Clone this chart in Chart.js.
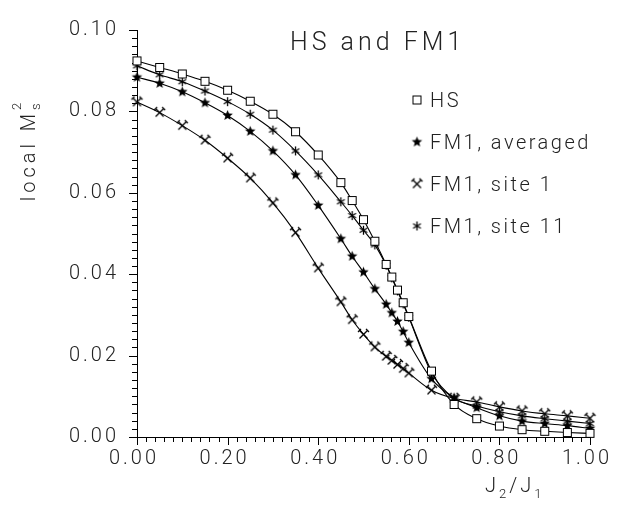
<!DOCTYPE html>
<html>
<head>
<meta charset="utf-8">
<script src="https://cdn.jsdelivr.net/npm/chart.js@4.4.1/dist/chart.umd.min.js"></script>
<style>
  html, body { margin: 0; padding: 0; background: #fff; }
  #wrap { width: 624px; height: 506px; }
</style>
</head>
<body>
<div id="wrap"><canvas id="chart"></canvas></div>
<script>
// J2/J1 values where the curves were sampled
const ratio = [0, 0.05, 0.1, 0.15, 0.2, 0.25, 0.3, 0.35, 0.4, 0.45, 0.475, 0.5, 0.525,
  0.55, 0.5625, 0.575, 0.5875, 0.6, 0.65, 0.7, 0.75, 0.8, 0.85, 0.9, 0.95, 1.0];

const hsValues = [0.0924, 0.0908, 0.0892, 0.0874, 0.0852, 0.0825, 0.0793, 0.0750, 0.0693,
  0.0625, 0.0581, 0.0534, 0.0481, 0.0424, 0.0393, 0.0361, 0.0330, 0.0296, 0.0162, 0.0080,
  0.0045, 0.0027, 0.0018, 0.0014, 0.0011, 0.0009];

const fm1Averaged = [0.0884, 0.0869, 0.0848, 0.0821, 0.0790, 0.0751, 0.0703, 0.0644, 0.0569,
  0.0487, 0.0444, 0.0405, 0.0364, 0.0326, 0.0305, 0.0284, 0.0259, 0.0232, 0.0143, 0.0096,
  0.0072, 0.0052, 0.0039, 0.0033, 0.0028, 0.0021];

const fm1Site1 = [0.0823, 0.0797, 0.0765, 0.0729, 0.0685, 0.0636, 0.0575, 0.0502, 0.0415,
  0.0332, 0.0288, 0.0252, 0.0221, 0.0198, 0.0188, 0.0178, 0.0168, 0.0157, 0.0115, 0.0095,
  0.0086, 0.0074, 0.0064, 0.0057, 0.0052, 0.0046];

const fm1Site11 = [0.0912, 0.0890, 0.0873, 0.0850, 0.0824, 0.0793, 0.0754, 0.0703, 0.0644,
  0.0578, 0.0544, 0.0508, 0.0472, 0.0422, 0.0391, 0.0359, 0.0327, 0.0294, 0.0158, 0.0095,
  0.0076, 0.0062, 0.0052, 0.0045, 0.0039, 0.0033];

const seriesNames = ["HS", "FM1, averaged", "FM1, site 1", "FM1, site 11"];
const chartTitle = "HS and FM1";

const textFont = "Roboto, 'Liberation Sans', sans-serif";
const ink = "#222";

function isMajor(v, step) {
  return Math.abs(v / step - Math.round(v / step)) < 1e-6;
}

// small canvases used as point styles
function makeMarker(kind) {
  const c = document.createElement("canvas");
  c.width = 15;
  c.height = 15;
  const g = c.getContext("2d");
  g.translate(7.5, 7.5);
  g.strokeStyle = "#000";
  g.fillStyle = "#000";
  g.lineWidth = 1.3;
  if (kind == "square") {
    g.lineWidth = 1;
    g.fillStyle = "#fff";
    g.fillRect(-4, -4, 8, 8);
    g.strokeRect(-4, -4, 8, 8);
  } else if (kind == "star") {
    g.beginPath();
    for (let i = 0; i < 10; i++) {
      const r = i % 2 == 0 ? 5.5 : 2.4;
      const a = -Math.PI / 2 + i * Math.PI / 5;
      g.lineTo(r * Math.cos(a), r * Math.sin(a));
    }
    g.closePath();
    g.fill();
  } else if (kind == "hammer") {
    g.beginPath();
    g.moveTo(-4, -4); g.lineTo(4, 4);
    g.moveTo(4, -4); g.lineTo(-4, 4);
    g.moveTo(-5.5, -2.5); g.lineTo(-2.5, -5.5);
    g.moveTo(2.5, -5.5); g.lineTo(5.5, -2.5);
    g.stroke();
  } else {
    g.beginPath();
    for (let i = 0; i < 3; i++) {
      const a = Math.PI / 2 + i * Math.PI / 3;
      g.moveTo(4.5 * Math.cos(a), 4.5 * Math.sin(a));
      g.lineTo(-4.5 * Math.cos(a), -4.5 * Math.sin(a));
    }
    g.stroke();
  }
  return c;
}

const markers = [makeMarker("square"), makeMarker("star"), makeMarker("hammer"), makeMarker("asterisk")];

function toPoints(values) {
  return values.map(function (v, i) {
    return { x: ratio[i], y: v };
  });
}

function lineSet(name, values, marker) {
  return {
    label: name,
    data: toPoints(values),
    borderColor: "#000",
    borderWidth: 1.1,
    pointStyle: marker,
    pointRadius: 5,
    cubicInterpolationMode: "monotone",
    fill: false,
    clip: false,
  };
}

// axis tick marks, major ones longer
const tickMarks = {
  id: "tickMarks",
  beforeDatasetsDraw(chart) {
    const { ctx, chartArea, scales } = chart;
    ctx.save();
    ctx.strokeStyle = "#000";
    ctx.lineWidth = 1;
    scales.y.ticks.forEach(function (t) {
      const py = Math.round(scales.y.getPixelForValue(t.value)) + 0.5;
      const len = isMajor(t.value, 0.02) ? 8 : 5;
      ctx.beginPath();
      ctx.moveTo(chartArea.left - len, py);
      ctx.lineTo(chartArea.left, py);
      ctx.stroke();
    });
    scales.x.ticks.forEach(function (t) {
      const px = Math.round(scales.x.getPixelForValue(t.value)) + 0.5;
      const len = isMajor(t.value, 0.2) ? 8 : 5;
      ctx.beginPath();
      ctx.moveTo(px, chartArea.bottom);
      ctx.lineTo(px, chartArea.bottom + len);
      ctx.stroke();
    });
    ctx.restore();
  },
};

// title, legend and axis titles
const annotations = {
  id: "annotations",
  beforeDraw(chart) {
    chart.ctx.letterSpacing = "3px";
  },
  afterDraw(chart) {
    const ctx = chart.ctx;
    ctx.save();
    ctx.fillStyle = ink;
    ctx.textBaseline = "alphabetic";

    ctx.letterSpacing = "4px";
    ctx.font = "300 25px " + textFont;
    ctx.fillText(chartTitle, 290, 50);

    ctx.letterSpacing = "2.5px";
    ctx.font = "300 20px " + textFont;
    seriesNames.forEach(function (name, i) {
      const y = 100 + i * 42;
      ctx.drawImage(markers[i], 417 - 7.5, y - 7.5);
      ctx.fillText(name, 430, y + 7);
    });

    // x axis title J2/J1
    ctx.letterSpacing = "3px";
    let x = 485;
    const base = 492;
    const parts = [["J", 0], ["2", 1], ["/", 0], ["J", 0], ["1", 1]];
    parts.forEach(function (p) {
      ctx.font = p[1] ? "300 13px " + textFont : "300 20px " + textFont;
      ctx.fillText(p[0], x, base + (p[1] ? 6 : 0));
      x += ctx.measureText(p[0]).width;
    });

    // y axis title local Ms^2
    ctx.translate(28, 150);
    ctx.rotate(-Math.PI / 2);
    ctx.letterSpacing = "4px";
    ctx.font = "300 20px " + textFont;
    const main = "local M";
    const w1 = ctx.measureText(main).width;
    ctx.font = "300 13px " + textFont;
    const w2 = ctx.measureText("2").width;
    const start = -(w1 + w2) / 2;
    ctx.font = "300 20px " + textFont;
    ctx.fillText(main, start, 7);
    ctx.font = "300 13px " + textFont;
    ctx.fillText("s", start + w1, 12);
    ctx.fillText("2", start + w1, -7);
    ctx.restore();
  },
};

const tickFont = { family: textFont, size: 20, weight: 300 };

new Chart(document.getElementById("chart"), {
  type: "line",
  data: {
    datasets: [
      lineSet(seriesNames[0], hsValues, markers[0]),
      lineSet(seriesNames[1], fm1Averaged, markers[1]),
      lineSet(seriesNames[2], fm1Site1, markers[2]),
      lineSet(seriesNames[3], fm1Site11, markers[3]),
    ],
  },
  options: {
    responsive: true,
    maintainAspectRatio: false,
    animation: false,
    layout: { padding: { left: 0, right: 34, top: 13, bottom: 0 } },
    plugins: {
      legend: { display: false },
      tooltip: { enabled: false },
      title: { display: false },
    },
    scales: {
      x: {
        type: "linear",
        min: 0,
        max: 1,
        afterFit(scale) {
          scale.height = 69;
        },
        grid: { display: false, drawTicks: false },
        border: { display: true, color: "#000", width: 1 },
        ticks: {
          stepSize: 0.02,
          autoSkip: false,
          maxRotation: 0,
          padding: 10,
          labelOffset: -3,
          color: ink,
          font: tickFont,
          callback: function (v) {
            return isMajor(v, 0.2) ? v.toFixed(2) : "";
          },
        },
      },
      y: {
        type: "linear",
        min: 0,
        max: 0.1,
        afterFit(scale) {
          scale.width = 137;
        },
        grid: { display: false, drawTicks: false },
        border: { display: true, color: "#000", width: 1 },
        ticks: {
          stepSize: 0.002,
          autoSkip: false,
          padding: 18,
          color: ink,
          font: tickFont,
          callback: function (v) {
            return isMajor(v, 0.02) ? v.toFixed(2) : "";
          },
        },
      },
    },
  },
  plugins: [tickMarks, annotations],
});
</script>
</body>
</html>
